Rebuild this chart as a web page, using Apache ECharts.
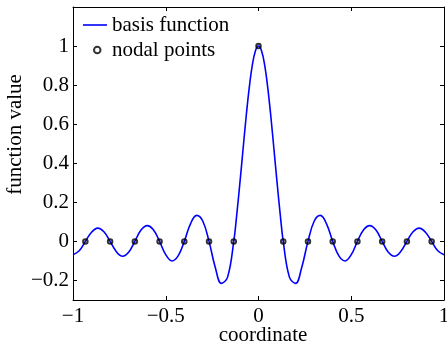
<!DOCTYPE html>
<html>
<head>
<meta charset="utf-8">
<script src="https://cdn.jsdelivr.net/npm/echarts@6/dist/echarts.min.js"></script>
<style>
html,body{margin:0;padding:0;background:#fff;}
#chart{width:447px;height:343px;}
</style>
</head>
<body>
<div id="chart"></div>
<script>
// basis function samples
var curveX = [-1.0, -0.9667, -0.9333, -0.9, -0.8667, -0.8333, -0.8, -0.7667, -0.7333, -0.7, -0.6667, -0.6333, -0.6, -0.5667, -0.5333, -0.5, -0.4667, -0.4333, -0.4, -0.3667, -0.3333, -0.3, -0.2667, -0.2333, -0.2, -0.1667, -0.1333, -0.1167, -0.1, -0.0833, -0.0667, -0.05, -0.0333, -0.0167, 0,
  0.0167, 0.0333, 0.05, 0.0667, 0.0833, 0.1, 0.1167, 0.1333, 0.1667, 0.2, 0.2333, 0.2667, 0.3, 0.3333, 0.3667, 0.4, 0.4333, 0.4667, 0.5, 0.5333, 0.5667, 0.6, 0.6333, 0.6667, 0.7, 0.7333, 0.7667, 0.8, 0.8333, 0.8667, 0.9, 0.9333, 0.9667, 1.0];
var curveY = [-0.068, -0.048, 0, 0.047, 0.068, 0.049, 0, -0.052, -0.076, -0.056, 0, 0.058, 0.081, 0.060, 0, -0.068, -0.100, -0.074, 0, 0.090, 0.133, 0.103, 0, -0.132, -0.215, -0.183, 0, 0.142, 0.302, 0.472, 0.638, 0.786, 0.902, 0.975, 1.0,
  0.975, 0.902, 0.786, 0.638, 0.472, 0.302, 0.142, 0, -0.183, -0.215, -0.132, 0, 0.103, 0.133, 0.090, 0, -0.074, -0.100, -0.068, 0, 0.060, 0.081, 0.058, 0, -0.056, -0.076, -0.052, 0, 0.049, 0.068, 0.047, 0, -0.048, -0.068];
// nodal points
var nodeX = [-0.9333, -0.8, -0.6667, -0.5333, -0.4, -0.2667, -0.1333, 0, 0.1333, 0.2667, 0.4, 0.5333, 0.6667, 0.8, 0.9333];
var nodeY = [0, 0, 0, 0, 0, 0, 0, 1, 0, 0, 0, 0, 0, 0, 0];
// tick labels
var xTicks = [-1, -0.5, 0, 0.5, 1];
var yTicks = [-0.2, 0, 0.2, 0.4, 0.6, 0.8, 1];
var xName = 'coordinate';
var yName = 'function value';
var seriesNames = ['basis function', 'nodal points'];

function fmt(v) {
  return v < 0 ? '\u2212' + String(Math.abs(v)) : String(v);
}

var FONT = 'Liberation Serif';
var FS = 21;

var curveData = curveX.map(function (x, i) { return [x, curveY[i]]; });
var nodeData = nodeX.map(function (x, i) { return [x, nodeY[i]]; });

var axisLineStyle = { color: '#000', width: 1 };

var chart = echarts.init(document.getElementById('chart'), null, { renderer: 'canvas' });
chart.setOption({
  animation: false,
  backgroundColor: '#fff',
  grid: { left: 73, right: 3, top: 7, bottom: 43, containLabel: false, outerBoundsMode: 'none' },
  legend: [
    {
      data: [{ name: seriesNames[0], icon: 'rect', itemStyle: { color: '#0000ff', borderWidth: 0 } }],
      left: 83, top: 14.5, orient: 'vertical', padding: 0,
      itemWidth: 24, itemHeight: 1.6,
      textStyle: { fontFamily: FONT, fontSize: FS, color: '#000', lineHeight: 21 }
    },
    {
      data: [seriesNames[1]], left: 93, top: 39.5, orient: 'vertical', padding: 0,
      itemWidth: 6.5, itemHeight: 6.5,
      textStyle: { fontFamily: FONT, fontSize: FS, color: '#000', lineHeight: 21, padding: [0, 0, 0, 6.5] }
    }
  ],
  xAxis: [
    {
      type: 'value', min: -1, max: 1, interval: 0.5, position: 'bottom',
      name: xName, nameLocation: 'middle', nameGap: 25, nameMoveOverlap: false,
      nameTextStyle: { fontFamily: FONT, fontSize: FS, color: '#000', padding: [0, 0, 0, 9] },
      axisLine: { show: true, onZero: false, lineStyle: axisLineStyle },
      axisTick: { show: true, inside: true, length: 4, lineStyle: axisLineStyle, customValues: xTicks },
      axisLabel: { show: true, margin: 6, fontFamily: FONT, fontSize: FS, color: '#000', formatter: fmt, customValues: xTicks },
      splitLine: { show: false }
    },
    {
      type: 'value', min: -1, max: 1, interval: 0.5, position: 'top',
      axisLine: { show: true, onZero: false, lineStyle: axisLineStyle },
      axisTick: { show: true, inside: true, length: 4, lineStyle: axisLineStyle, customValues: xTicks },
      axisLabel: { show: false },
      splitLine: { show: false }
    }
  ],
  yAxis: [
    {
      type: 'value', min: -0.3, max: 1.2, interval: 0.1, position: 'left',
      name: yName, nameLocation: 'middle', nameGap: 47, nameRotate: 90, nameMoveOverlap: false,
      nameTextStyle: { fontFamily: FONT, fontSize: FS, color: '#000', padding: [0, 0, 0, 38] },
      axisLine: { show: true, onZero: false, lineStyle: axisLineStyle },
      axisTick: { show: true, inside: true, length: 4, lineStyle: axisLineStyle, customValues: yTicks },
      axisLabel: { show: true, margin: 4, fontFamily: FONT, fontSize: FS, color: '#000', formatter: fmt, customValues: yTicks },
      splitLine: { show: false }
    },
    {
      type: 'value', min: -0.3, max: 1.2, interval: 0.1, position: 'right',
      axisLine: { show: true, onZero: false, lineStyle: axisLineStyle },
      axisTick: { show: true, inside: true, length: 4, lineStyle: axisLineStyle, customValues: yTicks },
      axisLabel: { show: false },
      splitLine: { show: false }
    }
  ],
  series: [
    {
      name: seriesNames[0], type: 'line', xAxisIndex: 0, yAxisIndex: 0,
      data: curveData, smooth: 0.4, symbol: 'none', showSymbol: false,
      lineStyle: { color: '#0000ff', width: 1.6 }, itemStyle: { color: '#0000ff' },
      z: 2
    },
    {
      name: seriesNames[1], type: 'scatter', xAxisIndex: 0, yAxisIndex: 0,
      data: nodeData, symbol: 'circle', symbolSize: 4.5,
      itemStyle: { color: 'rgba(0,0,0,0)', borderColor: '#000', borderWidth: 2 },
      z: 3
    }
  ]
});
</script>
</body>
</html>
